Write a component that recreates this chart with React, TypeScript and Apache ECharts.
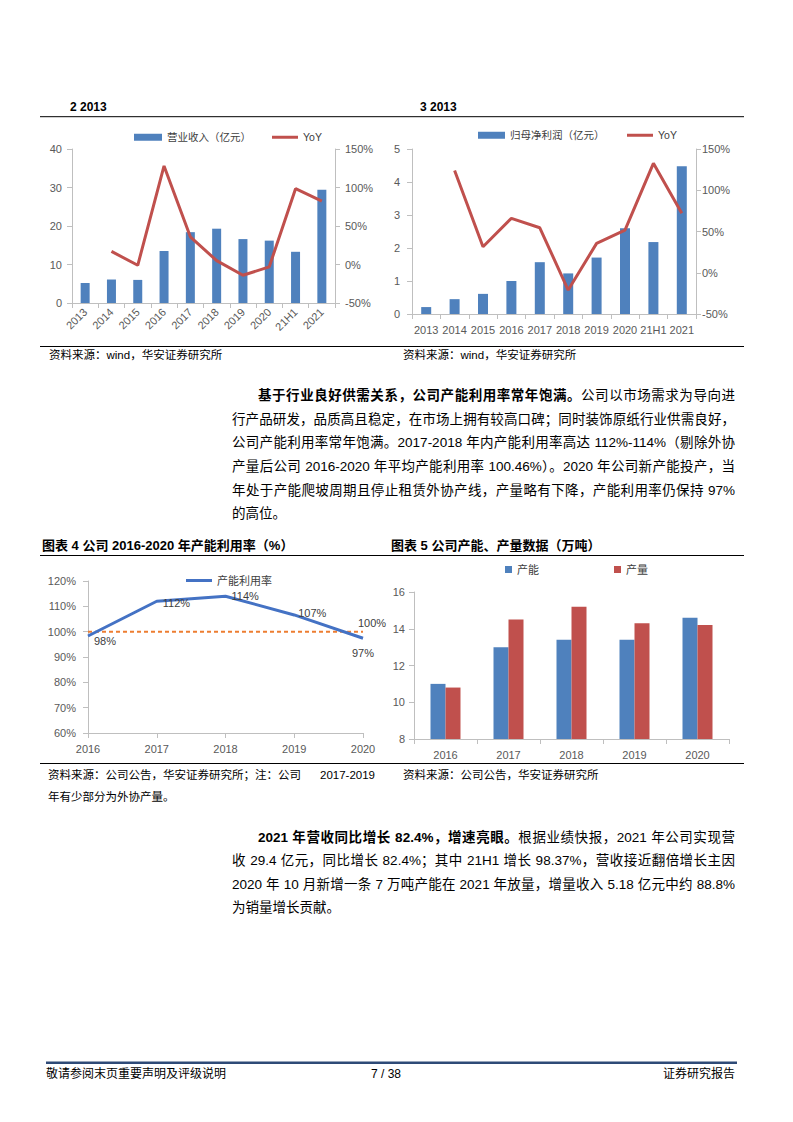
import React, { useEffect, useRef } from "react";
import * as echarts from "echarts";

const years = ["2013", "2014", "2015", "2016", "2017", "2018", "2019", "2020", "21H1", "2021"];
const revenue = [5.2, 6.1, 6.0, 13.5, 18.4, 19.3, 16.6, 16.2, 13.3, 29.4];
const revenueYoY = [null, 17, -1, 128, 36, 5, -14, -3, 98.4, 82.4];
const profit = [0.21, 0.45, 0.61, 1.0, 1.57, 1.23, 1.71, 2.6, 2.18, 4.48];
const profitYoY = [null, 124, 31.5, 66, 54.5, -21, 35.6, 51.7, 132.6, 72];

const utilYears = ["2016", "2017", "2018", "2019", "2020"];
const utilization = [98.3, 112, 114, 106.6, 97.4];
const utilLabels = ["98%", "112%", "114%", "107%", "97%"];
const baseline = [100, 100, 100, 100, 100];

const capYears = ["2016", "2017", "2018", "2019", "2020"];
const capacity = [11.0, 13.0, 13.4, 13.4, 14.6];
const production = [10.8, 14.5, 15.2, 14.3, 14.2];

const para1Bold = "基于行业良好供需关系，公司产能利用率常年饱满。";
const para1Lines = [
  "公司以市场需求为导向进",
  "行产品研发，品质高且稳定，在市场上拥有较高口碑；同时装饰原纸行业供需良好，",
  "公司产能利用率常年饱满。2017-2018 年内产能利用率高达 112%-114%（剔除外协",
  "产量后公司 2016-2020 年平均产能利用率 100.46%）。2020 年公司新产能投产，当",
  "年处于产能爬坡周期且停止租赁外协产线，产量略有下降，产能利用率仍保持 97%",
  "的高位。",
];
const para2Bold = "2021 年营收同比增长 82.4%，增速亮眼。";
const para2Lines = [
  "根据业绩快报，2021 年公司实现营",
  "收 29.4 亿元，同比增长 82.4%；其中 21H1 增长 98.37%，营收接近翻倍增长主因",
  "2020 年 10 月新增一条 7 万吨产能在 2021 年放量，增量收入 5.18 亿元中约 88.8%",
  "为销量增长贡献。",
];

const FONT = "'Liberation Sans', 'Noto Sans CJK SC', sans-serif";
const BLUE = "#4F81BD";
const RED = "#C0504D";
const AXIS = "#BFBFBF";

const axisLabel = { color: "#595959", fontSize: 11, fontFamily: FONT };
const axisLine = { show: true, lineStyle: { color: AXIS } };
const axisTick = { show: true, lineStyle: { color: AXIS } };
const legendText = { color: "#404040", fontSize: 10.5, fontFamily: FONT };

function buildOption() {
  const graphic: any[] = [
    { type: "text", x: 70, y: 107, style: { text: "2 2013", font: `bold 12px ${FONT}`, fill: "#000", verticalAlign: "middle" } },
    { type: "text", x: 420, y: 107, style: { text: "3 2013", font: `bold 12px ${FONT}`, fill: "#000", verticalAlign: "middle" } },
    { type: "line", shape: { x1: 40, y1: 116.7, x2: 744, y2: 116.7 }, style: { stroke: "#000", lineWidth: 1 } },
    { type: "line", shape: { x1: 40, y1: 346.5, x2: 744, y2: 346.5 }, style: { stroke: "#000", lineWidth: 1 } },
    { type: "text", x: 49, y: 355, style: { text: "资料来源：wind，华安证券研究所", font: `11.5px ${FONT}`, fill: "#000", verticalAlign: "middle" } },
    { type: "text", x: 403, y: 355, style: { text: "资料来源：wind，华安证券研究所", font: `11.5px ${FONT}`, fill: "#000", verticalAlign: "middle" } },

    { type: "text", x: 42, y: 545, style: { text: "图表 4 公司 2016-2020 年产能利用率（%）", font: `bold 13px ${FONT}`, fill: "#000", verticalAlign: "middle" } },
    { type: "text", x: 391, y: 545, style: { text: "图表 5 公司产能、产量数据（万吨）", font: `bold 13px ${FONT}`, fill: "#000", verticalAlign: "middle" } },
    { type: "line", shape: { x1: 40, y1: 555.5, x2: 744, y2: 555.5 }, style: { stroke: "#000", lineWidth: 1 } },
    { type: "line", shape: { x1: 40, y1: 763.5, x2: 744, y2: 763.5 }, style: { stroke: "#000", lineWidth: 1 } },
    { type: "text", x: 48, y: 775, style: { text: "资料来源：公司公告，华安证券研究所；注：公司", font: `11.5px ${FONT}`, fill: "#000", verticalAlign: "middle" } },
    { type: "text", x: 375, y: 775, style: { text: "2017-2019", font: `11.5px ${FONT}`, fill: "#000", verticalAlign: "middle", align: "right" } },
    { type: "text", x: 48, y: 797, style: { text: "年有少部分为外协产量。", font: `11.5px ${FONT}`, fill: "#000", verticalAlign: "middle" } },
    { type: "text", x: 403, y: 775, style: { text: "资料来源：公司公告，华安证券研究所", font: `11.5px ${FONT}`, fill: "#000", verticalAlign: "middle" } },

    { type: "rect", shape: { x: 46, y: 1061.5, width: 691, height: 2.5 }, style: { fill: "#2E4A77" } },
    { type: "text", x: 46, y: 1074, style: { text: "敬请参阅末页重要声明及评级说明", font: `12px ${FONT}`, fill: "#000", verticalAlign: "middle" } },
    { type: "text", x: 386, y: 1074, style: { text: "7 / 38", font: `12px ${FONT}`, fill: "#000", verticalAlign: "middle", align: "center" } },
    { type: "text", x: 735, y: 1074, style: { text: "证券研究报告", font: `12px ${FONT}`, fill: "#000", verticalAlign: "middle", align: "right" } },
  ];

  const utilData = utilization.map((v, i) => {
    const label: any = { show: true, formatter: utilLabels[i], position: "right", distance: 6 };
    if (i === 0) label.offset = [0, 5];
    if (i === 1) label.offset = [0, 2];
    if (i === 3) label.offset = [-2, -2];
    if (i === 4) { label.position = "bottom"; label.distance = 9; label.offset = [0, 0]; }
    return { value: v, label };
  });
  const baseData = baseline.map((v, i) =>
    i === baseline.length - 1
      ? { value: v, label: { show: true, formatter: "100%", position: "top", distance: 3, offset: [9, 0] } }
      : v
  );

  return {
    animation: false,
    backgroundColor: "#fff",
    textStyle: { fontFamily: FONT },
    graphic,
    legend: [
      { left: 129, top: 127, itemWidth: 28, itemHeight: 7, icon: "rect", data: ["营业收入（亿元）"], textStyle: legendText },
      { left: 267, top: 127, itemWidth: 26, itemHeight: 3, icon: "rect", data: ["YoY"], textStyle: legendText },
      { left: 473, top: 125, itemWidth: 27, itemHeight: 7, icon: "rect", data: ["归母净利润（亿元）"], textStyle: legendText },
      { left: 622, top: 125, itemWidth: 26, itemHeight: 3, icon: "rect", data: ["YoY"], textStyle: legendText },
      { left: 181, top: 570, itemWidth: 26, itemHeight: 3, icon: "rect", data: ["产能利用率"], textStyle: { ...legendText, fontSize: 11 } },
      { left: 500, top: 559, itemWidth: 7, itemHeight: 7, icon: "rect", itemGap: 75, data: ["产能", "产量"], textStyle: { ...legendText, fontSize: 11 } },
    ],
    grid: [
      { left: 72, top: 149, width: 263, height: 154 },
      { left: 412, top: 149, width: 284, height: 165 },
      { left: 88, top: 581, width: 275, height: 152 },
      { left: 414, top: 592, width: 315, height: 147 },
    ],
    xAxis: [
      { gridIndex: 0, type: "category", data: years, axisLine, axisTick, axisLabel: { ...axisLabel, rotate: 45, margin: 7, interval: 0 } },
      { gridIndex: 1, type: "category", data: years, axisLine, axisTick, axisLabel: { ...axisLabel, margin: 10, interval: 0 } },
      { gridIndex: 2, type: "category", data: utilYears, boundaryGap: false, axisLine, axisTick, axisLabel: { ...axisLabel, margin: 10 } },
      { gridIndex: 3, type: "category", data: capYears, axisLine, axisTick, axisLabel: { ...axisLabel, margin: 10 } },
    ],
    yAxis: [
      { gridIndex: 0, type: "value", min: 0, max: 40, interval: 10, position: "left", splitLine: { show: false }, axisLine, axisTick, axisLabel: { ...axisLabel, margin: 10 } },
      { gridIndex: 0, type: "value", min: -50, max: 150, interval: 50, position: "right", splitLine: { show: false }, axisLine, axisTick, axisLabel: { ...axisLabel, margin: 10, formatter: "{value}%" } },
      { gridIndex: 1, type: "value", min: 0, max: 5, interval: 1, position: "left", splitLine: { show: false }, axisLine, axisTick, axisLabel: { ...axisLabel, margin: 12 } },
      { gridIndex: 1, type: "value", min: -50, max: 150, interval: 50, position: "right", splitLine: { show: false }, axisLine, axisTick, axisLabel: { ...axisLabel, margin: 6, formatter: "{value}%" } },
      { gridIndex: 2, type: "value", min: 60, max: 120, interval: 10, splitLine: { show: false }, axisLine, axisTick, axisLabel: { ...axisLabel, margin: 12, formatter: "{value}%" } },
      { gridIndex: 3, type: "value", min: 8, max: 16, interval: 2, splitLine: { show: false }, axisLine, axisTick, axisLabel: { ...axisLabel, margin: 9 } },
    ],
    series: [
      { name: "营业收入（亿元）", type: "bar", xAxisIndex: 0, yAxisIndex: 0, data: revenue, barWidth: 9, itemStyle: { color: BLUE } },
      { name: "YoY", type: "line", xAxisIndex: 0, yAxisIndex: 1, data: revenueYoY, symbol: "none", lineStyle: { color: RED, width: 3 }, itemStyle: { color: RED } },
      { name: "归母净利润（亿元）", type: "bar", xAxisIndex: 1, yAxisIndex: 2, data: profit, barWidth: 10, itemStyle: { color: BLUE } },
      { name: "YoY", type: "line", xAxisIndex: 1, yAxisIndex: 3, data: profitYoY, symbol: "none", lineStyle: { color: RED, width: 3 }, itemStyle: { color: RED } },
      {
        name: "产能利用率", type: "line", xAxisIndex: 2, yAxisIndex: 4, data: utilData, symbol: "circle", symbolSize: 0, showSymbol: true,
        lineStyle: { color: "#4472C4", width: 3 }, itemStyle: { color: "#4472C4" },
        label: { color: "#404040", fontSize: 11, fontFamily: FONT },
      },
      {
        name: "基准", type: "line", xAxisIndex: 2, yAxisIndex: 4, data: baseData, symbol: "circle", symbolSize: 0, showSymbol: true,
        lineStyle: { color: "#ED7D31", width: 2, type: [4, 3] }, itemStyle: { color: "#ED7D31" },
        label: { color: "#404040", fontSize: 11, fontFamily: FONT }, z: 1,
      },
      { name: "产能", type: "bar", xAxisIndex: 3, yAxisIndex: 5, data: capacity, barWidth: 15, barGap: "0%", itemStyle: { color: BLUE } },
      { name: "产量", type: "bar", xAxisIndex: 3, yAxisIndex: 5, data: production, barWidth: 15, barGap: "0%", itemStyle: { color: RED } },
    ],
  };
}

const PFONT = "'Liberation Sans', 'Noto Sans CJK SC', sans-serif";

function Line(props: { left: number; y: number; width?: number; justify: boolean; children: any }) {
  return (
    <div
      style={{
        position: "absolute",
        left: props.left,
        top: props.y - 11,
        width: props.width,
        height: 22,
        lineHeight: "22px",
        fontSize: 13.5,
        fontFamily: PFONT,
        color: "#000",
        textAlign: props.justify ? "justify" : "left",
        textAlignLast: props.justify ? "justify" : "left",
        whiteSpace: props.justify ? "normal" : "nowrap",
      } as any}
    >
      {props.children}
    </div>
  );
}

export default function App() {
  const ref = useRef<HTMLDivElement>(null);
  useEffect(() => {
    if (!ref.current) return;
    const chart = echarts.init(ref.current, null, { renderer: "svg" });
    chart.setOption(buildOption() as any);
    return () => chart.dispose();
  }, []);

  const p1Y = [396, 419.5, 443, 467, 490.5, 514];
  const p2Y = [837.5, 861, 884.5, 908];

  return (
    <div style={{ position: "absolute", left: 0, top: 0, width: 793, height: 1122, background: "#fff", overflow: "hidden" }}>
      <div ref={ref} style={{ position: "absolute", left: 0, top: 0, width: 793, height: 1122 }} />
      <Line left={258} y={p1Y[0]} width={477} justify>
        <b>{para1Bold}</b>
        {para1Lines[0]}
      </Line>
      {para1Lines.slice(1).map((t, i) => (
        <Line key={"a" + i} left={232} y={p1Y[i + 1]} width={503} justify={i < para1Lines.length - 2}>
          {t}
        </Line>
      ))}
      <Line left={258} y={p2Y[0]} width={477} justify>
        <b>{para2Bold}</b>
        {para2Lines[0]}
      </Line>
      {para2Lines.slice(1).map((t, i) => (
        <Line key={"b" + i} left={232} y={p2Y[i + 1]} width={503} justify={i < para2Lines.length - 2}>
          {t}
        </Line>
      ))}
    </div>
  );
}
